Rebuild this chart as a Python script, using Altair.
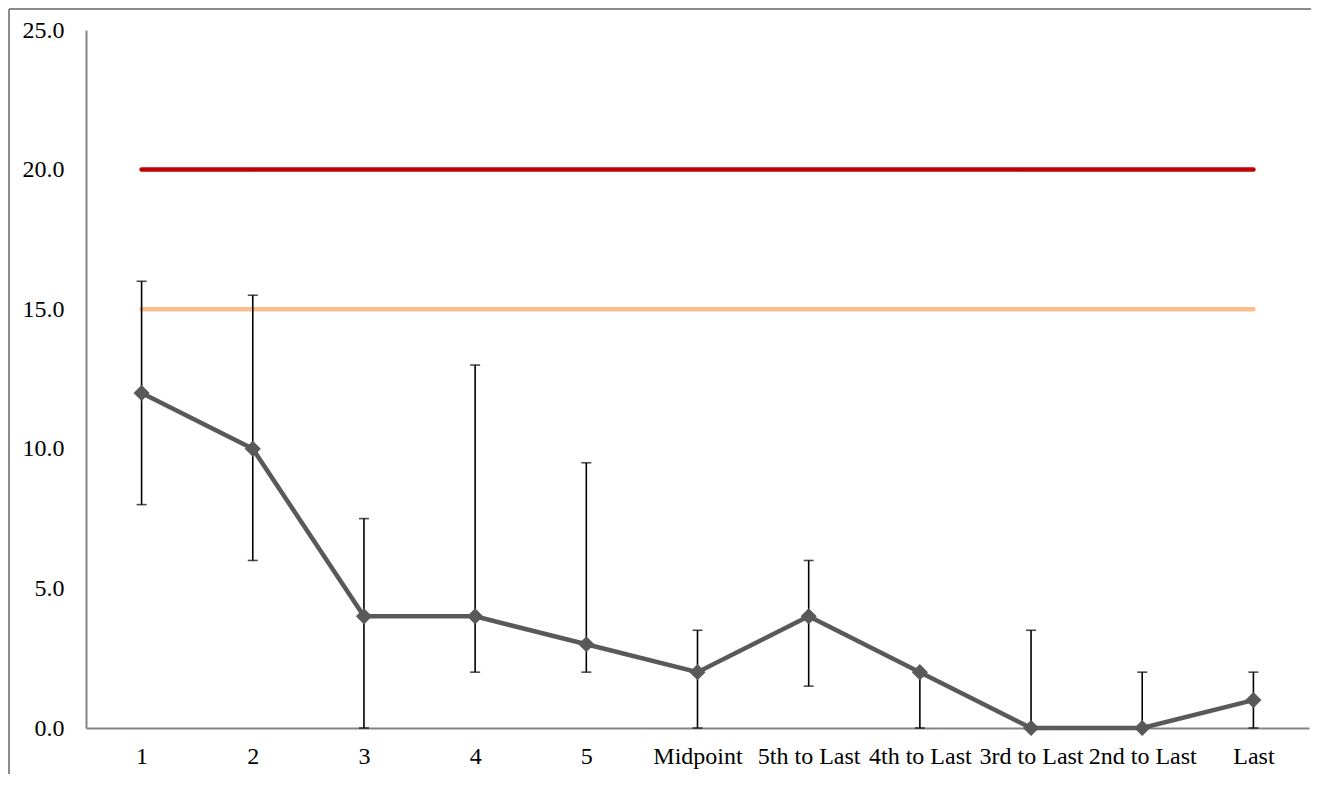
import altair as alt
import pandas as pd

categories = ["1", "2", "3", "4", "5", "Midpoint", "5th to Last", "4th to Last",
              "3rd to Last", "2nd to Last", "Last"]
means = [12, 10, 4, 4, 3, 2, 4, 2, 0, 0, 1]
lower = [8, 6, 0, 2, 2, 0, 1.5, 0, 0, 0, 0]
upper = [16, 15.5, 7.5, 13, 9.5, 3.5, 6, 2, 3.5, 2, 2]
ref_names = ["red", "orange"]
ref_values = [20, 15]
ref_colors = ["#C00000", "#F9BF8F"]
y_ticks = [0, 5, 10, 15, 20, 25]

df = pd.DataFrame({"cat": categories, "mean": means, "lo": lower, "hi": upper})
ref_rows = []
for n, v in zip(ref_names, ref_values):
    ref_rows.append({"cat": categories[0], "v": v, "ref": n})
    ref_rows.append({"cat": categories[-1], "v": v, "ref": n})
ref_df = pd.DataFrame(ref_rows)

W, H = 1223, 698
FONT = "Liberation Serif"
FS = 24

xenc = alt.X("cat:N", sort=categories,
             scale=alt.Scale(type="point", padding=0.5),
             axis=alt.Axis(title=None, labelAngle=0, ticks=False, labelPadding=16,
                           domainColor="#868686", domainWidth=2,
                           labelFont=FONT, labelFontSize=FS, labelColor="black"))
yscale = alt.Scale(domain=[0, 25], nice=False)
yaxis = alt.Axis(title=None, values=y_ticks, format=".1f", ticks=False, grid=False,
                 labelPadding=22, domainColor="#868686", domainWidth=2,
                 labelFont=FONT, labelFontSize=FS, labelColor="black")

refs = alt.Chart(ref_df).mark_line(strokeWidth=4.5, strokeCap="round").encode(
    x=xenc,
    y=alt.Y("v:Q", scale=yscale, axis=yaxis),
    color=alt.Color("ref:N", scale=alt.Scale(domain=ref_names, range=ref_colors), legend=None),
)

bars = alt.Chart(df).mark_rule(color="black", strokeWidth=1.6).encode(
    x=xenc, y=alt.Y("lo:Q", scale=yscale), y2="hi:Q"
)
cap_lo = alt.Chart(df).mark_tick(color="black", thickness=1.6, size=10, orient="horizontal").encode(
    x=xenc, y=alt.Y("lo:Q", scale=yscale)
)
cap_hi = alt.Chart(df).mark_tick(color="black", thickness=1.6, size=10, orient="horizontal").encode(
    x=xenc, y=alt.Y("hi:Q", scale=yscale)
)

line = alt.Chart(df).mark_line(color="#595959", strokeWidth=4.5).encode(
    x=xenc, y=alt.Y("mean:Q", scale=yscale)
)
pts = alt.Chart(df).mark_point(shape="diamond", filled=True, color="#595959", size=260, opacity=1).encode(
    x=xenc, y=alt.Y("mean:Q", scale=yscale)
)

frame_top = alt.Chart(df).mark_rule(color="#8c8c8c", strokeWidth=2).encode(
    x=alt.value(-77), x2=alt.value(1225), y=alt.value(-21)
)
frame_left = alt.Chart(df).mark_rule(color="#8c8c8c", strokeWidth=2).encode(
    x=alt.value(-77), y=alt.value(-21), y2=alt.value(744)
)

chart = alt.layer(frame_top, frame_left, refs, bars, cap_lo, cap_hi, line, pts).properties(
    width=W, height=H,
    autosize=alt.AutoSizeParams(type="none"),
    padding={"left": 78, "top": 22, "right": 2, "bottom": 46},
    background="white",
).configure_view(stroke=None)

chart.save("out.html", embed_options={"renderer": "svg", "actions": False})
